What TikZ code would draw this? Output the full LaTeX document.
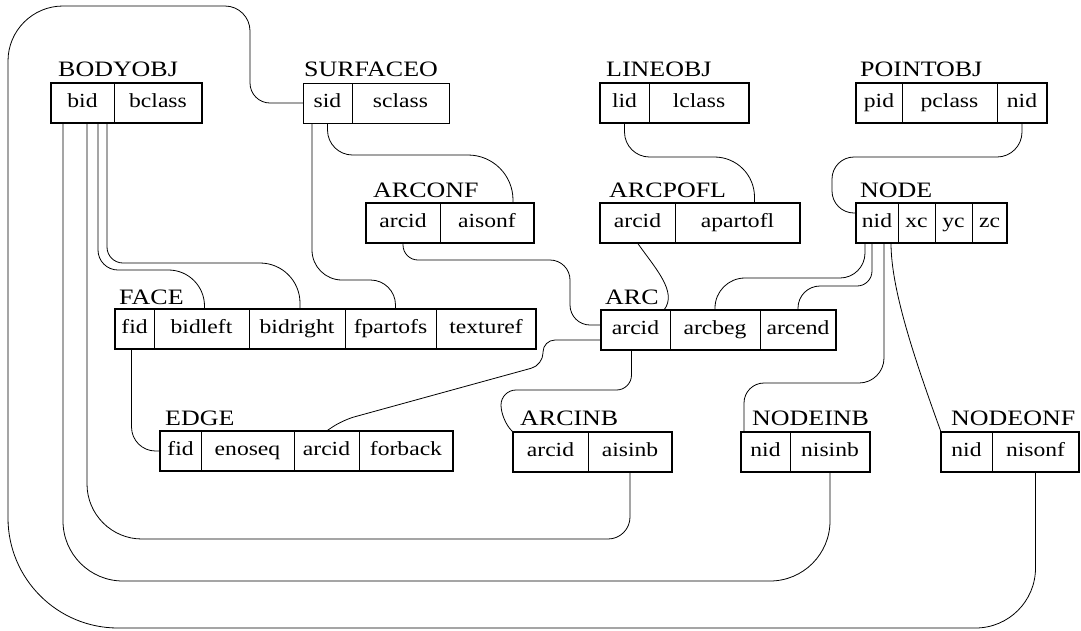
\documentclass[tikz,border=0pt]{standalone}
\usepackage{fontspec}
\setmainfont[FakeStretch=1.18]{Liberation Serif}
\usetikzlibrary{positioning}
\tikzset{
  cell/.style={draw, line width=0.8pt, inner sep=0pt, outer sep=0pt, minimum height=40pt,
    text height=13pt, text depth=5pt, font=\fontsize{20}{24}\selectfont},
  frame/.style={draw, line width=1.8pt},
  title/.style={anchor=base west, inner sep=0pt, font=\fontsize{22}{26}\selectfont},
  link/.style={line width=0.8pt}
}
\begin{document}
\begin{tikzpicture}[x=1pt, y=-1pt]
\useasboundingbox (0,0) rectangle (1081,630);

\node[cell, minimum width=63pt, anchor=north west] (bid) at (51,83) {bid};
\node[cell, minimum width=88pt, right=0pt of bid] (bclass) {bclass};
\draw[frame] (bid.north west) rectangle (bclass.south east);
\node[title] (tbodyobj) at ([xshift=7pt,yshift=7pt]bid.north west) {BODYOBJ};

\node[cell, minimum width=49pt, anchor=north west] (sid) at (303,83) {sid};
\node[cell, minimum width=97pt, right=0pt of sid] (sclass) {sclass};
\node[title] (tsurfaceo) at ([xshift=1pt,yshift=7pt]sid.north west) {SURFACEO};

\node[cell, minimum width=49pt, anchor=north west] (lid) at (600,83) {lid};
\node[cell, minimum width=100pt, right=0pt of lid] (lclass) {lclass};
\draw[frame] (lid.north west) rectangle (lclass.south east);
\node[title] (tlineobj) at ([xshift=6pt,yshift=7pt]lid.north west) {LINEOBJ};

\node[cell, minimum width=46pt, anchor=north west] (pid) at (856,83) {pid};
\node[cell, minimum width=95pt, right=0pt of pid] (pclass) {pclass};
\node[cell, minimum width=50pt, right=0pt of pclass] (pnid) {nid};
\draw[frame] (pid.north west) rectangle (pnid.south east);
\node[title] (tpointobj) at ([xshift=4pt,yshift=7pt]pid.north west) {POINTOBJ};

\node[cell, minimum width=74pt, anchor=north west] (onfarc) at (366,203) {arcid};
\node[cell, minimum width=94pt, right=0pt of onfarc] (aisonf) {aisonf};
\draw[frame] (onfarc.north west) rectangle (aisonf.south east);
\node[title] (tarconf) at ([xshift=7pt,yshift=6pt]onfarc.north west) {ARCONF};

\node[cell, minimum width=75pt, anchor=north west] (pofarc) at (600,203) {arcid};
\node[cell, minimum width=125pt, right=0pt of pofarc] (apartofl) {apartofl};
\draw[frame] (pofarc.north west) rectangle (apartofl.south east);
\node[title] (tarcpofl) at ([xshift=9pt,yshift=6pt]pofarc.north west) {ARCPOFL};

\node[cell, minimum width=42pt, anchor=north west] (nid) at (856,203) {nid};
\node[cell, minimum width=37pt, right=0pt of nid] (xc) {xc};
\node[cell, minimum width=37pt, right=0pt of xc] (yc) {yc};
\node[cell, minimum width=35pt, right=0pt of yc] (zc) {zc};
\draw[frame] (nid.north west) rectangle (zc.south east);
\node[title] (tnode) at ([xshift=4pt,yshift=6pt]nid.north west) {NODE};

\node[cell, minimum width=39pt, anchor=north west] (fid) at (115,309) {fid};
\node[cell, minimum width=95pt, right=0pt of fid] (bidleft) {bidleft};
\node[cell, minimum width=96pt, right=0pt of bidleft] (bidright) {bidright};
\node[cell, minimum width=91pt, right=0pt of bidright] (fpartofs) {fpartofs};
\node[cell, minimum width=100pt, right=0pt of fpartofs] (texturef) {texturef};
\draw[frame] (fid.north west) rectangle (texturef.south east);
\node[title] (tface) at ([xshift=4pt,yshift=5pt]fid.north west) {FACE};

\node[cell, minimum width=69pt, anchor=north west] (arcid) at (601,310) {arcid};
\node[cell, minimum width=90pt, right=0pt of arcid] (arcbeg) {arcbeg};
\node[cell, minimum width=76pt, right=0pt of arcbeg] (arcend) {arcend};
\draw[frame] (arcid.north west) rectangle (arcend.south east);
\node[title] (tarc) at ([xshift=4pt,yshift=6pt]arcid.north west) {ARC};

\node[cell, minimum width=41pt, anchor=north west] (efid) at (160,431) {fid};
\node[cell, minimum width=93pt, right=0pt of efid] (enoseq) {enoseq};
\node[cell, minimum width=65pt, right=0pt of enoseq] (earcid) {arcid};
\node[cell, minimum width=94pt, right=0pt of earcid] (forback) {forback};
\draw[frame] (efid.north west) rectangle (forback.south east);
\node[title] (tedge) at ([xshift=5pt,yshift=6pt]efid.north west) {EDGE};

\node[cell, minimum width=75pt, anchor=north west] (inbarc) at (513,432) {arcid};
\node[cell, minimum width=84pt, right=0pt of inbarc] (aisinb) {aisinb};
\draw[frame] (inbarc.north west) rectangle (aisinb.south east);
\node[title] (tarcinb) at ([xshift=7pt,yshift=7pt]inbarc.north west) {ARCINB};

\node[cell, minimum width=49pt, anchor=north west] (inbnid) at (741,432) {nid};
\node[cell, minimum width=80pt, right=0pt of inbnid] (nisinb) {nisinb};
\draw[frame] (inbnid.north west) rectangle (nisinb.south east);
\node[title] (tnodeinb) at ([xshift=11pt,yshift=7pt]inbnid.north west) {NODEINB};

\node[cell, minimum width=51pt, anchor=north west] (onfnid) at (941,432) {nid};
\node[cell, minimum width=87pt, right=0pt of onfnid] (nisonf) {nisonf};
\draw[frame] (onfnid.north west) rectangle (nisonf.south east);
\node[title] (tnodeonf) at ([xshift=10pt,yshift=7pt]onfnid.north west) {NODEONF};

\draw[link] (sid.west) [rounded corners=20pt] -- (250,103) [rounded corners=25pt] -- (250,6)
  [rounded corners=55pt] -- (8,6) [rounded corners=110pt] -- (8,628) [rounded corners=60pt]
  -- (nisonf.south |- 0,628) -- (nisonf.south);
\draw[link] ([xshift=12pt]bid.south west) [rounded corners=60pt] -- ++(0,458) -| (nisinb.south);
\draw[link] ([xshift=36pt]bid.south west) [rounded corners=55pt] -- ++(0,416) [rounded corners=22pt] -| (aisinb.south);
\draw[link] ([xshift=47pt]bid.south west) [rounded corners=20pt] -- ++(0,147) [rounded corners=36pt] -| ([xshift=3pt]bidleft.north);
\draw[link] ([xshift=56pt]bid.south west) [rounded corners=16pt] -- ++(0,140) [rounded corners=40pt] -| ([xshift=3pt]bidright.north);
\draw[link] ([xshift=9pt]sid.south west) [rounded corners=30pt] -- ++(0,157) [rounded corners=25pt] -| ([xshift=5pt]fpartofs.north);
\draw[link] (sid.south) [rounded corners=25pt] -- ++(0,32) [rounded corners=45pt] -| ([xshift=-21pt]aisonf.north east);
\draw[link] (lid.south) [rounded corners=25pt] -- ++(0,34) [rounded corners=40pt] -| ([xshift=17pt]apartofl.north);
\draw[link] (pnid.south) [rounded corners=25pt] -- ++(0,34) [rounded corners=22pt] -| ([xshift=-24pt,yshift=10pt]nid.west) -- ([yshift=10pt]nid.west);
\draw[link] (onfarc.south) [rounded corners=15pt] -- ++(0,17) [rounded corners=20pt] -| ([xshift=-31pt,yshift=5pt]arcid.west) -- ([yshift=5pt]arcid.west);
\draw[link] (pofarc.south) .. controls (655,268) and (678,292) .. ([xshift=-6pt]arcid.north east);
\draw[link] ([xshift=9pt]nid.south west) [rounded corners=25pt] -- ++(0,35) [rounded corners=30pt] -| (arcbeg.north);
\draw[link] ([xshift=16pt]nid.south west) [rounded corners=15pt] -- ++(0,43) [rounded corners=22pt] -| (arcend.north);
\draw[link] ([xshift=28pt]nid.south west) [rounded corners=25pt] -- ++(0,140) [rounded corners=20pt] -| ([xshift=3pt]inbnid.north west);
\draw[link] ([xshift=35pt]nid.south west) .. controls (891,290) and (915,360) .. (onfnid.north west);
\draw[link] ([xshift=-4pt]arcid.south) [rounded corners=15pt] -- ++(0,40) -| ([xshift=-12pt,yshift=12pt]inbarc.north west) -- (inbarc.north west);
\draw[link] ([yshift=-10pt]arcid.west) [rounded corners=12pt] -- ++(-58,0) -- ++(0,25) -- ++(-200,55) -- (earcid.north);
\draw[link] ([xshift=-3pt]fid.south) [rounded corners=24pt] |- (efid.west);
\end{tikzpicture}
\end{document}
